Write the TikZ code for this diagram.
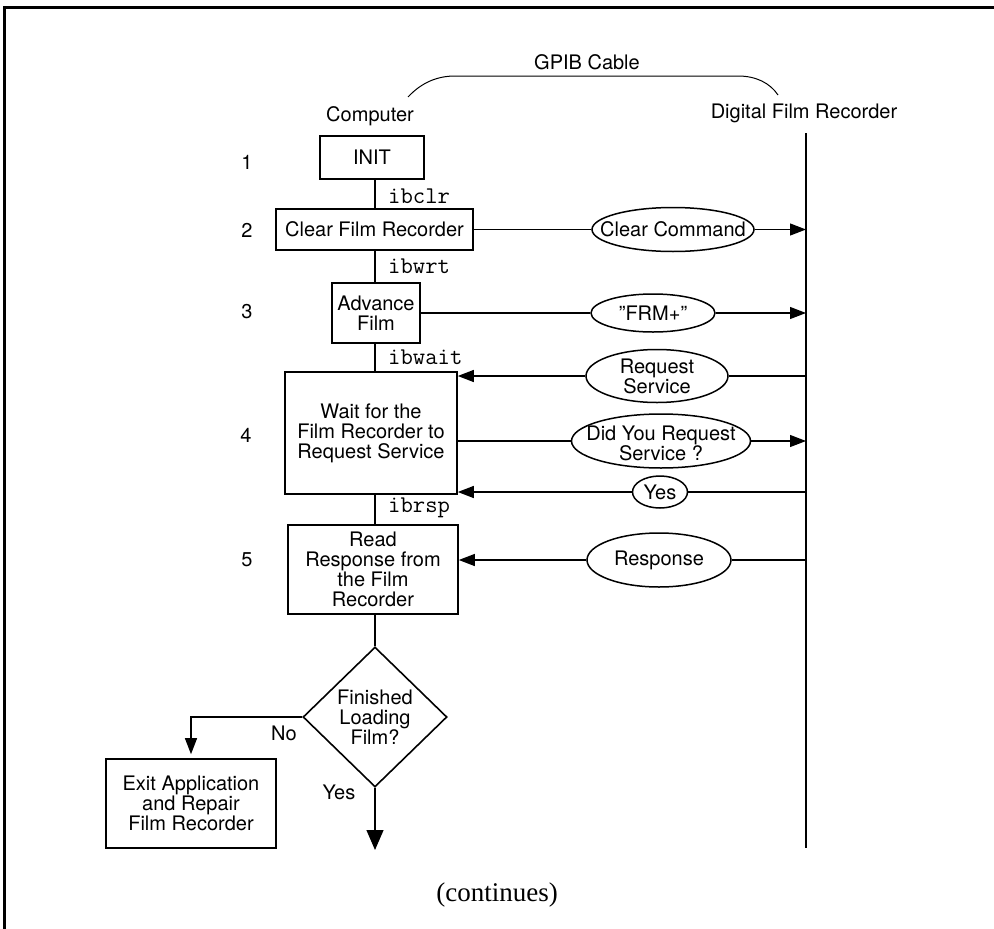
\documentclass[tikz,border=0pt]{standalone}
\usepackage{fontspec}
\setmainfont{TeX Gyre Heros}
\newfontfamily\contfont{Liberation Serif}
\usetikzlibrary{shapes.geometric,arrows.meta}

\begin{document}
\begin{tikzpicture}[x=1pt,y=-1pt,
  every node/.style={font=\fontsize{20}{20}\selectfont, inner sep=0pt},
  stepbox/.style={draw, line width=1.6pt, align=center},
  msg/.style={draw, ellipse, line width=1.5pt, inner sep=0pt},
  msgtext/.style={align=center},
  link/.style={line width=1.2pt},
  arr/.style={link, -{Triangle[length=16pt,width=12pt]}},
  code/.style={font=\ttfamily\fontsize{24}{24}\selectfont, anchor=west},
]
\useasboundingbox (0,0) rectangle (994,929);

% page frame (top and left rules)
\draw[line width=3.3pt, line join=miter] (4.3,929) -- (4.3,7.3) -- (994,7.3);

% headings and the cable between the two devices
\node (gpib) at (587,62) {GPIB Cable};
\node (comp) at (370,116) {Computer};
\node (dfr) at (804,113) {Digital Film Recorder};
\coordinate (arcL) at (408,97);
\coordinate (arcR) at (778,95);
\draw[line width=1pt] (arcL) .. controls (422,82) and (438,76) .. (455,76)
  -- (738,76) .. controls (756,76) and (770,83) .. (arcR);

% device time line
\coordinate (tltop) at (806,133);
\coordinate (tlbot) at (806,848);
\draw[line width=2.5pt] (tltop) -- (tlbot);

% step numbers
\node (n1) at (247,162) {1};
\node (n2) at (247,230) {2};
\node (n3) at (247,312) {3};
\node (n4) at (246,435) {4};
\node (n5) at (247,560) {5};

% computer-side steps
\coordinate (spine) at (375,0);
\node[stepbox, minimum width=104pt, minimum height=43pt] (init) at (372,157.5) {INIT};
\node[stepbox, minimum width=197pt, minimum height=41pt] (clr) at (374.5,229.5) {Clear Film Recorder};
\node[stepbox, minimum width=88pt, minimum height=60pt] (adv) at (376,313) {Advance\\Film};
\node[stepbox, minimum width=172pt, minimum height=122pt] (wait) at (371,433) {Wait for the\\Film Recorder to\\Request Service};
\node[stepbox, minimum width=170pt, minimum height=89pt] (read) at (373,569.5) {Read\\Response from\\the Film\\Recorder};
\node[draw, diamond, line width=1.6pt, minimum width=144pt, minimum height=140pt, align=center] (fin) at (375,717) {Finished\\Loading\\Film?};
\node[stepbox, minimum width=170pt, minimum height=89pt] (exit) at (191,803.5) {Exit Application\\and Repair\\Film Recorder};

% function calls between steps
\node[code] (c1) at (388,196) {ibclr};
\node[code] (c2) at (388,266) {ibwrt};
\node[code] (c3) at (388,357) {ibwait};
\node[code] (c4) at (388,508) {ibrsp};

\draw[link] (init.south -| spine) -- (clr.north -| spine);
\draw[link] (clr.south -| spine) -- (adv.north -| spine);
\draw[link] (adv.south -| spine) -- (wait.north -| spine);
\draw[link] (wait.south -| spine) -- (read.north -| spine);
\draw[link] (read.south -| spine) -- (fin.north);

% messages on the bus
\node[msg, minimum width=162pt, minimum height=44pt] (cc) at (673,229.5) {};
\node[msgtext] at (cc) {Clear Command};
\node[msg, minimum width=124pt, minimum height=38pt] (frm) at (653,313) {};
\node[msgtext] at (frm) {\symbol{"22}FRM+\symbol{"22}};
\node[msg, minimum width=142pt, minimum height=53pt] (rs) at (657,376) {};
\node[msgtext] at (rs) {Request\\Service};
\node[msg, minimum width=179pt, minimum height=54pt] (dy) at (661,441) {};
\node[msgtext] at ([yshift=-2pt]dy.center) {Did You Request\\Service ?};
\node[msg, minimum width=55pt, minimum height=32pt] (yes) at (660,492) {};
\node[msgtext] at (yes) {Yes};
\node[msg, minimum width=144pt, minimum height=54pt] (resp) at (659,560) {};
\node[msgtext] at (resp) {Response};

\draw[link] (clr.east) -- (cc.west);
\draw[arr] (cc.east) -- (cc.east -| tltop);
\draw[link] (adv.east) -- (frm.west);
\draw[arr] (frm.east) -- (frm.east -| tltop);
\draw[link] (rs.east -| tltop) -- (rs.east);
\draw[arr] (rs.west) -- (rs.west -| wait.east);
\draw[link] (wait.east |- dy.west) -- (dy.west);
\draw[arr] (dy.east) -- (dy.east -| tltop);
\draw[link] (yes.east -| tltop) -- (yes.east);
\draw[arr] (yes.west) -- (yes.west -| wait.east);
\draw[link] (resp.east -| tltop) -- (resp.east);
\draw[arr] (resp.west) -- (resp.west -| read.east);

% decision outcomes
\draw[arr] (fin.west) -| ([yshift=4pt]exit.north);
\coordinate (cont) at (375,850);
\draw[link, -{Triangle[length=20pt,width=17pt]}] (fin.south) -- (cont);
\node (no) at (284,733) {No};
\node (yeslbl) at (339,792) {Yes};

\node[font=\contfont\fontsize{27}{27}\selectfont] (more) at (497,895) {(continues)};
\end{tikzpicture}
\end{document}
